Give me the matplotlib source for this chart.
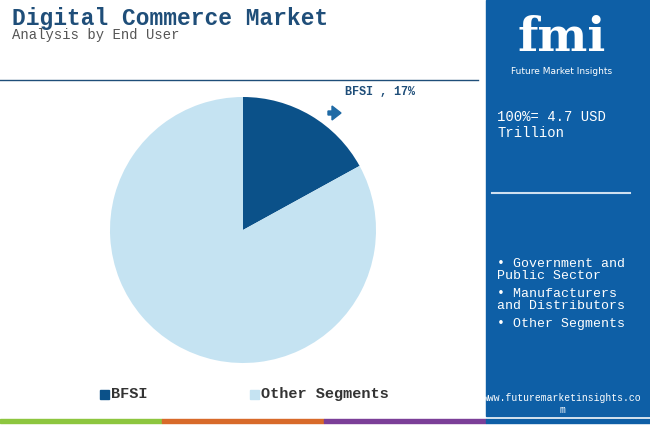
import matplotlib
matplotlib.use("Agg")
import matplotlib.pyplot as plt
from matplotlib.patches import Rectangle, FancyArrow

categories = ["BFSI", "Other Segments"]
values = [17, 83]
colors = ["#0b5189", "#c5e3f2"]
side_items = ["• Government and\nPublic Sector", "• Manufacturers\nand Distributors", "• Other Segments"]

W, H = 650, 426
fig = plt.figure(figsize=(6.5, 4.26), dpi=100)
bg = fig.add_axes([0, 0, 1, 1])
bg.set_xlim(0, W); bg.set_ylim(H, 0); bg.axis("off")
mono = "Liberation Mono"

bg.text(12, 18, "Digital Commerce Market", fontsize=16.5, fontweight="bold", color="#1f4e79", family=mono, va="center")
bg.text(12, 35, "Analysis by End User", fontsize=10, color="#555555", family=mono, va="center")
bg.plot([0, 478], [80, 80], color="#1f4e79", lw=1)

bg.add_patch(Rectangle((486, 0), 164, 416, color="#0e5fa6"))
bg.text(562, 38, "fmi", fontsize=34, fontweight="bold", color="white", ha="center", va="center", family="DejaVu Serif")
bg.text(562, 71, "Future Market Insights", fontsize=6.5, color="white", ha="center", va="center")
bg.text(497, 125, "100%= 4.7 USD\nTrillion", fontsize=10, color="white", family=mono, va="center", linespacing=1.2)
bg.plot([492, 630], [193, 193], color="#cfe0f0", lw=1.5)
ys = [270, 300, 324]
for y, t in zip(ys, side_items):
    bg.text(497, y, t, fontsize=9.5, color="white", family=mono, va="center", linespacing=1.1)
bg.text(562, 404, "www.futuremarketinsights.co\nm", fontsize=7, color="white", family=mono, ha="center", va="center")

for x0, x1, c in [(0, 162, "#8dc63f"), (162, 324, "#d86a2a"), (324, 486, "#7b3f98"), (486, 650, "#0e5fa6")]:
    bg.add_patch(Rectangle((x0, 419), x1 - x0, 4, color=c))

pa = fig.add_axes([(243 - 133) / W, 1 - (230 + 133) / H, 266 / W, 266 / H])
pa.pie(values, colors=colors, startangle=90, counterclock=False)
pa.set_xlim(-1, 1); pa.set_ylim(-1, 1)
pa.set_aspect("equal")

bg.add_patch(FancyArrow(328, 113, 4, 0, width=4, head_width=14, head_length=9, color="#1f6aa5"))
bg.text(345, 92, "BFSI , 17%", fontsize=8.5, fontweight="bold", color="#1f4e79", family=mono, va="center")

for x, lab, c in [(100, categories[0], colors[0]), (250, categories[1], colors[1])]:
    bg.add_patch(Rectangle((x, 390), 9, 9, color=c))
    bg.text(x + 11, 394, lab, fontsize=11, fontweight="bold", color="#333333", family=mono, va="center")

fig.savefig("out.png", dpi=100)
